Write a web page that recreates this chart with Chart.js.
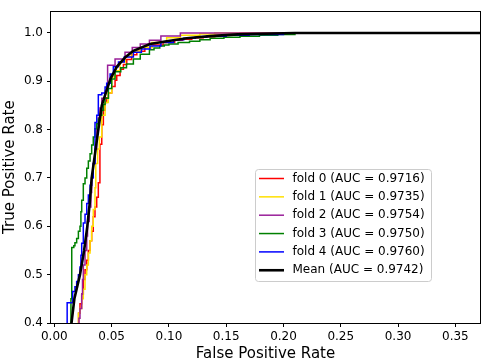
<!DOCTYPE html>
<html>
<head>
<meta charset="utf-8">
<script src="https://cdn.jsdelivr.net/npm/chart.js@4.4.0/dist/chart.umd.min.js"></script>
<style>
    html, body { margin: 0; padding: 0; background: #ffffff; }
    canvas { display: block; }
</style>
</head>
<body>
<canvas id="rocGraph" width="484" height="362"></canvas>
<script>
// ROC points per fold (fpr / tpr corners of the staircase)
const fold0Fpr = [0, 0.0205, 0.0212, 0.0224, 0.0239, 0.0253, 0.0268, 0.0283, 0.0297, 0.0312, 0.0326, 0.0340, 0.0355, 0.0370, 0.0384, 0.0398, 0.0414, 0.0428, 0.0443, 0.0457, 0.0472, 0.0501, 0.0530, 0.0545, 0.0574, 0.0603, 0.0632, 0.0675, 0.0720, 0.0790, 0.0850, 0.0950, 0.1050, 0.1120, 0.1200, 0.1300, 0.1400, 0.1520, 0.1620, 1.0];
const fold0Tpr = [0, 0.38, 0.42, 0.44, 0.46, 0.49, 0.51, 0.53, 0.55, 0.57, 0.59, 0.62, 0.64, 0.66, 0.69, 0.77, 0.81, 0.84, 0.856, 0.866, 0.876, 0.889, 0.902, 0.912, 0.925, 0.935, 0.945, 0.955, 0.962, 0.970, 0.975, 0.980, 0.985, 0.987, 0.990, 0.992, 0.995, 0.997, 1.0, 1.0];

const fold1Fpr = [0, 0.0195, 0.0210, 0.0224, 0.0239, 0.0253, 0.0268, 0.0283, 0.0297, 0.0312, 0.0326, 0.0340, 0.0355, 0.0362, 0.0378, 0.0393, 0.0414, 0.0443, 0.0470, 0.0501, 0.0530, 0.0573, 0.0620, 0.0680, 0.0750, 0.0850, 0.0980, 0.1100, 0.1270, 0.1400, 1.0];
const fold1Tpr = [0, 0.38, 0.42, 0.43, 0.45, 0.47, 0.50, 0.52, 0.545, 0.57, 0.60, 0.635, 0.68, 0.73, 0.76, 0.785, 0.83, 0.856, 0.876, 0.909, 0.922, 0.940, 0.952, 0.962, 0.970, 0.980, 0.990, 0.995, 0.998, 1.0, 1.0];

const fold2Fpr = [0, 0.0208, 0.0215, 0.0224, 0.0239, 0.0246, 0.0253, 0.0268, 0.0283, 0.0290, 0.0305, 0.0319, 0.0326, 0.0340, 0.0355, 0.0370, 0.0384, 0.0398, 0.0414, 0.0443, 0.0465, 0.0530, 0.0617, 0.0680, 0.0750, 0.0830, 0.0930, 0.1100, 1.0];
const fold2Tpr = [0, 0.38, 0.41, 0.43, 0.46, 0.49, 0.52, 0.55, 0.58, 0.61, 0.64, 0.67, 0.70, 0.73, 0.76, 0.80, 0.825, 0.845, 0.865, 0.880, 0.933, 0.946, 0.960, 0.970, 0.977, 0.985, 0.9935, 1.0, 1.0];

const fold3Fpr = [0, 0.0137, 0.0145, 0.0152, 0.0170, 0.0180, 0.0195, 0.0210, 0.0224, 0.0232, 0.0239, 0.0253, 0.0268, 0.0283, 0.0297, 0.0312, 0.0326, 0.0340, 0.0355, 0.0370, 0.0384, 0.0399, 0.0414, 0.0428, 0.0443, 0.0472, 0.0501, 0.0530, 0.0580, 0.0630, 0.0690, 0.0750, 0.0830, 0.0870, 0.0920, 0.0960, 0.1000, 0.1080, 0.1180, 0.1270, 0.1360, 0.1480, 0.1620, 0.1790, 0.1950, 0.2100, 1.0];
const fold3Tpr = [0, 0.38, 0.45, 0.556, 0.560, 0.566, 0.575, 0.59, 0.60, 0.63, 0.654, 0.688, 0.70, 0.72, 0.735, 0.75, 0.768, 0.785, 0.802, 0.812, 0.822, 0.83, 0.84, 0.852, 0.865, 0.885, 0.905, 0.920, 0.928, 0.936, 0.946, 0.956, 0.965, 0.969, 0.973, 0.975, 0.977, 0.980, 0.983, 0.986, 0.989, 0.991, 0.993, 0.995, 0.997, 1.0, 1.0];

const fold4Fpr = [0, 0.0112, 0.0160, 0.0180, 0.0195, 0.0210, 0.0224, 0.0232, 0.0239, 0.0253, 0.0268, 0.0283, 0.0297, 0.0312, 0.0326, 0.0340, 0.0355, 0.0370, 0.0384, 0.0414, 0.0443, 0.0457, 0.0487, 0.0515, 0.0560, 0.0610, 0.0690, 0.0760, 0.0835, 0.0930, 0.1040, 0.1130, 0.1230, 0.1330, 0.1500, 0.1700, 0.2000, 1.0];
const fold4Tpr = [0, 0.442, 0.465, 0.475, 0.486, 0.50, 0.516, 0.54, 0.565, 0.607, 0.625, 0.647, 0.665, 0.685, 0.701, 0.73, 0.815, 0.83, 0.872, 0.876, 0.888, 0.896, 0.915, 0.930, 0.940, 0.950, 0.960, 0.967, 0.973, 0.980, 0.986, 0.989, 0.991, 0.993, 0.995, 0.997, 1.0, 1.0];

const meanFpr = [0, 0.0150, 0.0175, 0.0224, 0.0260, 0.0288, 0.0310, 0.0326, 0.0355, 0.0384, 0.0414, 0.0455, 0.0490, 0.0545, 0.0620, 0.0690, 0.0835, 0.0980, 0.1155, 0.1360, 0.1600, 0.2100, 1.0];
const meanTpr = [0, 0.40, 0.45, 0.50, 0.55, 0.60, 0.65, 0.70, 0.75, 0.80, 0.85, 0.88, 0.905, 0.930, 0.950, 0.963, 0.977, 0.983, 0.989, 0.9935, 0.997, 1.0, 1.0];

const foldAucs = [0.9716, 0.9735, 0.9754, 0.9750, 0.9760];
const meanAuc = 0.9742;

const xTicks = [0.00, 0.05, 0.10, 0.15, 0.20, 0.25, 0.30, 0.35];
const yTicks = [0.4, 0.5, 0.6, 0.7, 0.8, 0.9, 1.0];

Chart.defaults.font.family = "'DejaVu Sans', sans-serif";
Chart.defaults.color = "#000000";

function make_points(fpr, tpr) {
    return fpr.map((x, i) => ({ x: x, y: tpr[i] }));
}

// top and right spines, like a matplotlib axes box
const frame = {
    id: "frame",
    afterDatasetsDraw(chart) {
        const { ctx, chartArea } = chart;
        ctx.save();
        ctx.strokeStyle = "#000000";
        ctx.lineWidth = 1;
        ctx.strokeRect(Math.round(chartArea.left) - 0.5, Math.round(chartArea.top) + 0.5,
            Math.round(chartArea.right - chartArea.left) + 1, Math.round(chartArea.bottom - chartArea.top));
        ctx.restore();
    }
};

// legend box inside the plot, drawn from the dataset labels and styles
const legendBox = {
    id: "legendBox",
    afterDatasetsDraw(chart, args, opts) {
        const ctx = chart.ctx;
        const datasets = chart.data.datasets;
        ctx.save();
        ctx.beginPath();
        ctx.roundRect(opts.left + 0.5, opts.top + 0.5, opts.width, opts.height, 3);
        ctx.fillStyle = "rgba(255,255,255,0.8)";
        ctx.fill();
        ctx.strokeStyle = "#cccccc";
        ctx.lineWidth = 1;
        ctx.stroke();
        ctx.font = "12px 'DejaVu Sans'";
        ctx.textBaseline = "middle";
        ctx.fillStyle = "#000000";
        datasets.forEach((ds, i) => {
            const y = opts.top + opts.firstRow + i * opts.rowHeight;
            ctx.beginPath();
            ctx.strokeStyle = ds.borderColor;
            ctx.lineWidth = ds.borderWidth;
            ctx.moveTo(opts.left + 4, y);
            ctx.lineTo(opts.left + 29, y);
            ctx.stroke();
            ctx.fillText(ds.label, opts.left + 37.5, y);
        });
        ctx.restore();
    }
};

const foldColors = ["#ff0000", "#ffe000", "#991f99", "#008000", "#0000ff"];
const foldData = [
    [fold0Fpr, fold0Tpr],
    [fold1Fpr, fold1Tpr],
    [fold2Fpr, fold2Tpr],
    [fold3Fpr, fold3Tpr],
    [fold4Fpr, fold4Tpr]
];

const datasets = foldData.map((fold, i) => ({
    label: "fold " + i + " (AUC = " + foldAucs[i].toFixed(4) + ")",
    data: make_points(fold[0], fold[1]),
    borderColor: foldColors[i],
    borderWidth: 1.5,
    stepped: "before",
    pointRadius: 0,
    fill: false,
    clip: 0,
    order: 10 - i
}));
datasets.push({
    label: "Mean (AUC = " + meanAuc.toFixed(4) + ")",
    data: make_points(meanFpr, meanTpr),
    borderColor: "#000000",
    borderWidth: 2.6,
    pointRadius: 0,
    fill: false,
    clip: 0,
    order: 0
});

const rocGraph = new Chart("rocGraph", {
    type: "line",
    data: { datasets: datasets },
    options: {
        responsive: false,
        animation: false,
        layout: { padding: { left: 0, right: 4, top: 3, bottom: 0 } },
        plugins: {
            legend: { display: false },
            tooltip: { enabled: false },
            legendBox: { left: 255, top: 169, width: 176, height: 112, firstRow: 9.5, rowHeight: 18.35 }
        },
        scales: {
            x: {
                type: "linear",
                position: "bottom",
                min: -0.0029,
                max: 0.3715,
                afterBuildTicks: (scale) => { scale.ticks = xTicks.map(v => ({ value: v })); },
                afterFit: (scale) => { scale.height = 39; },
                ticks: {
                    callback: (value) => value.toFixed(2),
                    font: { size: 12 },
                    padding: 3,
                    maxRotation: 0,
                    autoSkip: false
                },
                grid: { drawOnChartArea: false, tickLength: 4, color: "#000000" },
                border: { display: false },
                title: {
                    display: true,
                    text: "False Positive Rate",
                    font: { size: 15, lineHeight: 1 },
                    padding: { top: 0, bottom: 0 }
                }
            },
            y: {
                type: "linear",
                min: 0.4,
                max: 1.045,
                afterBuildTicks: (scale) => { scale.ticks = yTicks.map(v => ({ value: v })); },
                afterFit: (scale) => { scale.width = 51; },
                ticks: {
                    callback: (value) => value.toFixed(1),
                    font: { size: 12 },
                    padding: 4,
                    autoSkip: false
                },
                grid: { drawOnChartArea: false, tickLength: 4, color: "#000000" },
                border: { display: false },
                title: {
                    display: true,
                    text: "True Positive Rate",
                    font: { size: 15, lineHeight: 1 },
                    padding: { top: 2.5, bottom: 0 }
                }
            }
        }
    },
    plugins: [frame, legendBox]
});
</script>
</body>
</html>
